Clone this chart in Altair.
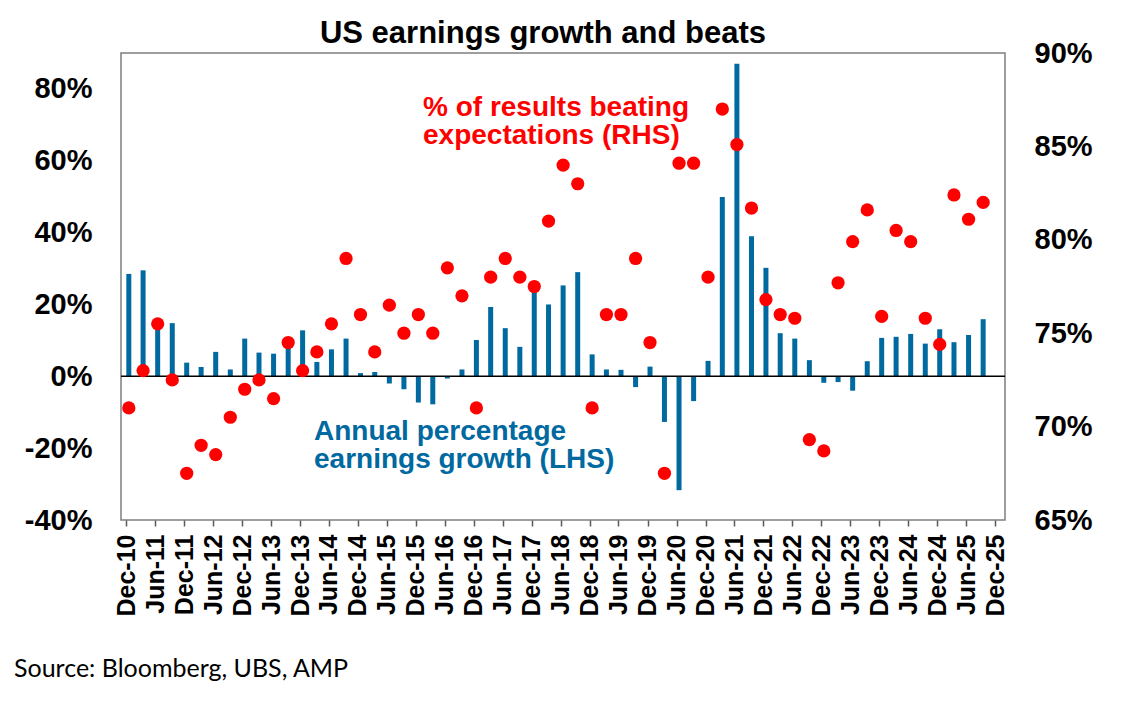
import altair as alt
import pandas as pd

# Quarterly categories (Dec-10 ... Sep-25)
quarters = list(pd.date_range("2010-12-01", periods=60, freq="3MS").strftime("%Y-%m-%d"))

# Annual percentage earnings growth (LHS, %)
growth = [28.5, 29.5, 14.5, 14.8, 3.8, 2.6, 6.8, 1.9, 10.5, 6.6,
          6.3, 8.7, 12.8, 4.0, 7.5, 10.5, 0.9, 1.2, -2.0, -3.6,
          -7.3, -7.8, -0.6, 1.9, 10.1, 19.3, 13.4, 8.2, 24.3, 20.0,
          25.3, 29.0, 6.1, 1.9, 1.8, -3.0, 2.7, -12.7, -31.7, -6.9,
          4.3, 49.9, 87.0, 39.0, 30.2, 12.0, 10.5, 4.5, -1.8, -1.6,
          -4.0, 4.2, 10.7, 11.0, 11.8, 9.1, 13.1, 9.5, 11.5, 15.9]

# % of results beating expectations (RHS, %)
beats = [71.0, 73.0, 75.5, 72.5, 67.5, 69.0, 68.5, 70.5, 72.0, 72.5,
         71.5, 74.5, 73.0, 74.0, 75.5, 79.0, 76.0, 74.0, 76.5, 75.0,
         76.0, 75.0, 78.5, 77.0, 71.0, 78.0, 79.0, 78.0, 77.5, 81.0,
         84.0, 83.0, 71.0, 76.0, 76.0, 79.0, 74.5, 67.5, 84.1, 84.1,
         78.0, 87.0, 85.1, 81.7, 76.8, 76.0, 75.8, 69.3, 68.7, 77.7,
         79.9, 81.6, 75.9, 80.5, 79.9, 75.8, 74.4, 82.4, 81.1, 82.0]

left_ticks = [-40, -20, 0, 20, 40, 60, 80]
right_ticks = [65, 70, 75, 80, 85, 90]

title_text = "US earnings growth and beats"
red_label = ["% of results beating", "expectations (RHS)"]
blue_label = ["Annual percentage", "earnings growth (LHS)"]
source_text = "Source: Bloomberg, UBS, AMP"

BLUE = "#00699F"
RED = "#FF0000"
FONT = "Liberation Sans"

df = pd.DataFrame({"date": quarters, "growth": growth, "beats": beats})
zero_df = pd.DataFrame({"z": [0]})

tick_values = []
for i in range(31):
    if i % 2 == 0:
        tick_values.append(alt.DateTime(year=2010 + i // 2, month=12, date=1, utc=True))
    else:
        tick_values.append(alt.DateTime(year=2011 + (i - 1) // 2, month=6, date=1, utc=True))

x_enc = alt.X(
    "date:T",
    scale=alt.Scale(type="utc",
                    domain=[alt.DateTime(year=2010, month=11, date=29, utc=True),
                            alt.DateTime(year=2026, month=1, date=1, utc=True)]),
    axis=alt.Axis(values=tick_values, format="%b-%y", labelAngle=270,
                  labelFontSize=25, labelFont=FONT, labelFontWeight="bold",
                  labelColor="black", tickSize=6, tickColor="#595959",
                  tickWidth=1.5, domain=False, grid=False, labelPadding=8,
                  title=None, labelOverlap=False, labelFlush=False),
)

left_scale = alt.Scale(domain=[-40, 90], nice=False, zero=False)
left_axis = alt.Axis(values=left_ticks, labelExpr="datum.value + '%'", orient="left",
                     labelFontSize=29, labelFont=FONT, labelFontWeight="bold",
                     labelColor="black", ticks=False, domain=False, grid=False,
                     labelPadding=29, title=None)

bars = alt.Chart(df).mark_bar(color=BLUE, size=5, xOffset=2.5).encode(
    x=x_enc, y=alt.Y("growth:Q", scale=left_scale, axis=left_axis)
)
zero = alt.Chart(zero_df).mark_rule(color="black", strokeWidth=1.5).encode(
    y=alt.Y("z:Q", scale=left_scale, axis=left_axis)
)
left_group = alt.layer(bars, zero)

points = alt.Chart(df).mark_circle(color=RED, size=175, opacity=1, xOffset=2.5).encode(
    x=x_enc,
    y=alt.Y(
        "beats:Q",
        scale=alt.Scale(domain=[65, 90], nice=False, zero=False),
        axis=alt.Axis(values=right_ticks, labelExpr="datum.value + '%'", orient="right",
                      labelFontSize=29, labelFont=FONT, labelFontWeight="bold",
                      labelColor="black", ticks=False, domain=False, grid=False,
                      labelPadding=29, title=None),
    ),
)

title = alt.Chart(zero_df).mark_text(
    text=title_text, align="center", baseline="alphabetic", fontSize=31,
    font=FONT, fontWeight="bold", color="black",
).encode(x=alt.value(422), y=alt.value(-10))

red_text = alt.Chart(zero_df).mark_text(
    text=red_label, align="left", baseline="alphabetic", fontSize=28,
    font=FONT, fontWeight="bold", color=RED, lineHeight=28,
).encode(x=alt.value(302), y=alt.value(63))

blue_text = alt.Chart(zero_df).mark_text(
    text=blue_label, align="left", baseline="alphabetic", fontSize=28,
    font=FONT, fontWeight="bold", color=BLUE, lineHeight=28,
).encode(x=alt.value(193), y=alt.value(387))

source = alt.Chart(zero_df).mark_text(
    text=source_text, align="left", baseline="alphabetic", fontSize=25,
    font="Lato", color="black",
).encode(x=alt.value(-107), y=alt.value(624))

chart = alt.layer(left_group, points, title, red_text, blue_text, source).resolve_scale(
    y="independent"
).properties(
    width=884,
    height=467,
    padding={"left": 113, "top": 45, "right": 105, "bottom": 165},
    autosize=alt.AutoSizeParams(type="none"),
).configure_view(
    stroke="#7F7F7F", strokeWidth=1.5
)

chart.save("out.html", embed_options={"renderer": "svg", "actions": False})
